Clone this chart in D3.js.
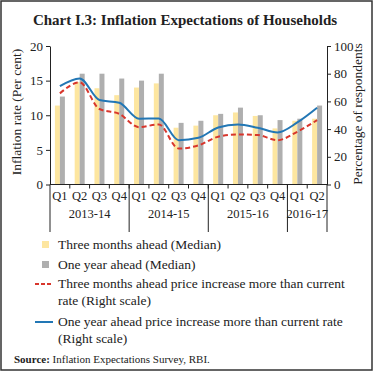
<html>
<head>
<title>Inflation Expectations of Households</title>
<script src="https://d3js.org/d3.v7.min.js"></script>
<style>
  body { margin: 0; background: #fff; }
  svg text { font-family: "Liberation Serif", serif; fill: #222; }
</style>
</head>
<body>
<svg id="chart" width="376" height="376"></svg>
<script>
// data
const quarters = ["Q1","Q2","Q3","Q4","Q1","Q2","Q3","Q4","Q1","Q2","Q3","Q4","Q1","Q2"];
const yearLabels = ["2013-14","2014-15","2015-16","2016-17"];
const yearQuarters = [4, 4, 4, 2];
const threeMonthMedian = [11.4,14.8,13.9,12.9,14.0,14.6,8.2,8.5,10.0,10.4,9.9,8.1,9.2,9.5];
const oneYearMedian    = [12.7,16.0,16.0,15.3,15.0,16.0,8.9,9.2,10.2,11.1,10.0,9.3,9.5,11.4];
const threeMonthPct    = [65.8,73.7,54.5,51.0,41.4,43.4,26.0,28.2,34.5,36.1,35.7,32.0,38.1,46.5];
const oneYearPct       = [71.0,76.6,61.0,59.0,47.5,47.7,32.0,33.7,41.2,43.4,41.0,37.6,44.8,55.4];
const leftTicks = [0,5,10,15,20];
const rightTicks = [0,20,40,60,80,100];

const svg = d3.select("#chart");
const yellow = "#fde6a0", grey = "#afafaf", red = "#d8362c", blue = "#2277b5";

// frame + title
svg.append("rect").attr("x",1).attr("y",1).attr("width",371).attr("height",369)
   .attr("fill","none").attr("stroke","#333").attr("stroke-width",1.5);
svg.append("text").attr("x",185).attr("y",25).attr("text-anchor","middle")
   .attr("font-size",15).attr("font-weight","bold").text("Chart I.3: Inflation Expectations of Households");

const x0 = 50, x1 = 327, yBot = 184.5, yTop = 46;
const idx = d3.range(quarters.length);
const x = d3.scaleBand().domain(idx).range([x0, x1]).padding(0);
const yL = d3.scaleLinear().domain([0,20]).range([yBot, yTop]);
const yR = d3.scaleLinear().domain([0,100]).range([yBot, yTop]);
const bw = 5;
const cx = i => x(i) + x.bandwidth()/2;

const plot = svg.append("g");

// bars
plot.append("g").selectAll("rect").data(threeMonthMedian).join("rect")
    .attr("x", (d,i) => cx(i) - bw).attr("width", bw)
    .attr("y", d => yL(d)).attr("height", d => yBot - yL(d))
    .attr("fill", yellow);
plot.append("g").selectAll("rect").data(oneYearMedian).join("rect")
    .attr("x", (d,i) => cx(i)).attr("width", bw)
    .attr("y", d => yL(d)).attr("height", d => yBot - yL(d))
    .attr("fill", grey);

// lines (right scale)
const lineGen = d3.line().x((d,i) => cx(i)).y(d => yR(d)).curve(d3.curveMonotoneX);
plot.append("path").datum(threeMonthPct).attr("d", lineGen)
    .attr("fill","none").attr("stroke", red).attr("stroke-width",2).attr("stroke-dasharray","5,3");
plot.append("path").datum(oneYearPct).attr("d", lineGen)
    .attr("fill","none").attr("stroke", blue).attr("stroke-width",2);

// y axes
const axL = svg.append("g").attr("transform","translate("+x0+",0)")
   .call(d3.axisLeft(yL).tickValues(leftTicks).tickSize(4).tickSizeOuter(0).tickPadding(3));
const axR = svg.append("g").attr("transform","translate("+x1+",0)")
   .call(d3.axisRight(yR).tickValues(rightTicks).tickSize(4).tickSizeOuter(0).tickPadding(3));
[axL, axR].forEach(a => {
  a.selectAll("path, line").attr("stroke","#222");
  a.selectAll("text").attr("font-size",13).attr("font-family","Liberation Serif, serif").attr("fill","#222");
});

// x axis: baseline, quarter ticks, year separators
const xa = svg.append("g").attr("stroke","#222");
xa.append("line").attr("x1",x0).attr("x2",x1).attr("y1",yBot).attr("y2",yBot);
xa.selectAll("line.q").data(idx.slice(1)).join("line").attr("class","q")
  .attr("x1", i => x(i)).attr("x2", i => x(i)).attr("y1", yBot).attr("y2", yBot + 4);
let cum = [0];
yearQuarters.forEach(n => cum.push(cum[cum.length-1] + n));
xa.selectAll("line.yr").data(cum).join("line").attr("class","yr")
  .attr("x1", k => k < quarters.length ? x(k) : x1)
  .attr("x2", k => k < quarters.length ? x(k) : x1)
  .attr("y1", yBot).attr("y2", 232);

svg.append("g").selectAll("text").data(quarters).join("text")
  .attr("x", (d,i) => cx(i)).attr("y", 200).attr("text-anchor","middle")
  .attr("font-size",12.5).text(d => d);
svg.append("g").selectAll("text").data(yearLabels).join("text")
  .attr("x", (d,i) => {
      const a = x(cum[i]);
      const b = cum[i+1] < quarters.length ? x(cum[i+1]) : x1;
      return (a + b) / 2;
  })
  .attr("y", 218).attr("text-anchor","middle").attr("font-size",12.5).text(d => d);

// axis titles
svg.append("text").attr("transform","translate(21,112) rotate(-90)").attr("text-anchor","middle")
   .attr("font-size",13.5).text("Inflation rate (Per cent)");
svg.append("text").attr("transform","translate(362,114) rotate(-90)").attr("text-anchor","middle")
   .attr("font-size",13.5).text("Percentage of respondents");

// legend
const lg = svg.append("g").attr("font-size",13.5);
const lx = 58;
lg.append("rect").attr("x",42).attr("y",241).attr("width",7).attr("height",7).attr("fill",yellow);
lg.append("text").attr("x",lx).attr("y",249).text("Three months ahead (Median)");
lg.append("rect").attr("x",42).attr("y",261).attr("width",7).attr("height",7).attr("fill",grey);
lg.append("text").attr("x",lx).attr("y",269).text("One year ahead (Median)");
lg.append("line").attr("x1",35).attr("x2",53).attr("y1",284).attr("y2",284)
  .attr("stroke",red).attr("stroke-width",2).attr("stroke-dasharray","4,2");
lg.append("text").attr("x",lx).attr("y",288).text("Three months ahead price increase more than current");
lg.append("text").attr("x",lx).attr("y",305).text("rate (Right  scale)");
lg.append("line").attr("x1",35).attr("x2",53).attr("y1",322).attr("y2",322)
  .attr("stroke",blue).attr("stroke-width",2);
lg.append("text").attr("x",lx).attr("y",326).text("One year ahead price increase more than current rate");
lg.append("text").attr("x",lx).attr("y",343).text("(Right scale)");

const src = svg.append("text").attr("x",14).attr("y",363).attr("font-size",11);
src.append("tspan").attr("font-weight","bold").text("Source:");
src.append("tspan").text("  Inflation Expectations Survey, RBI.");
</script>
</body>
</html>
